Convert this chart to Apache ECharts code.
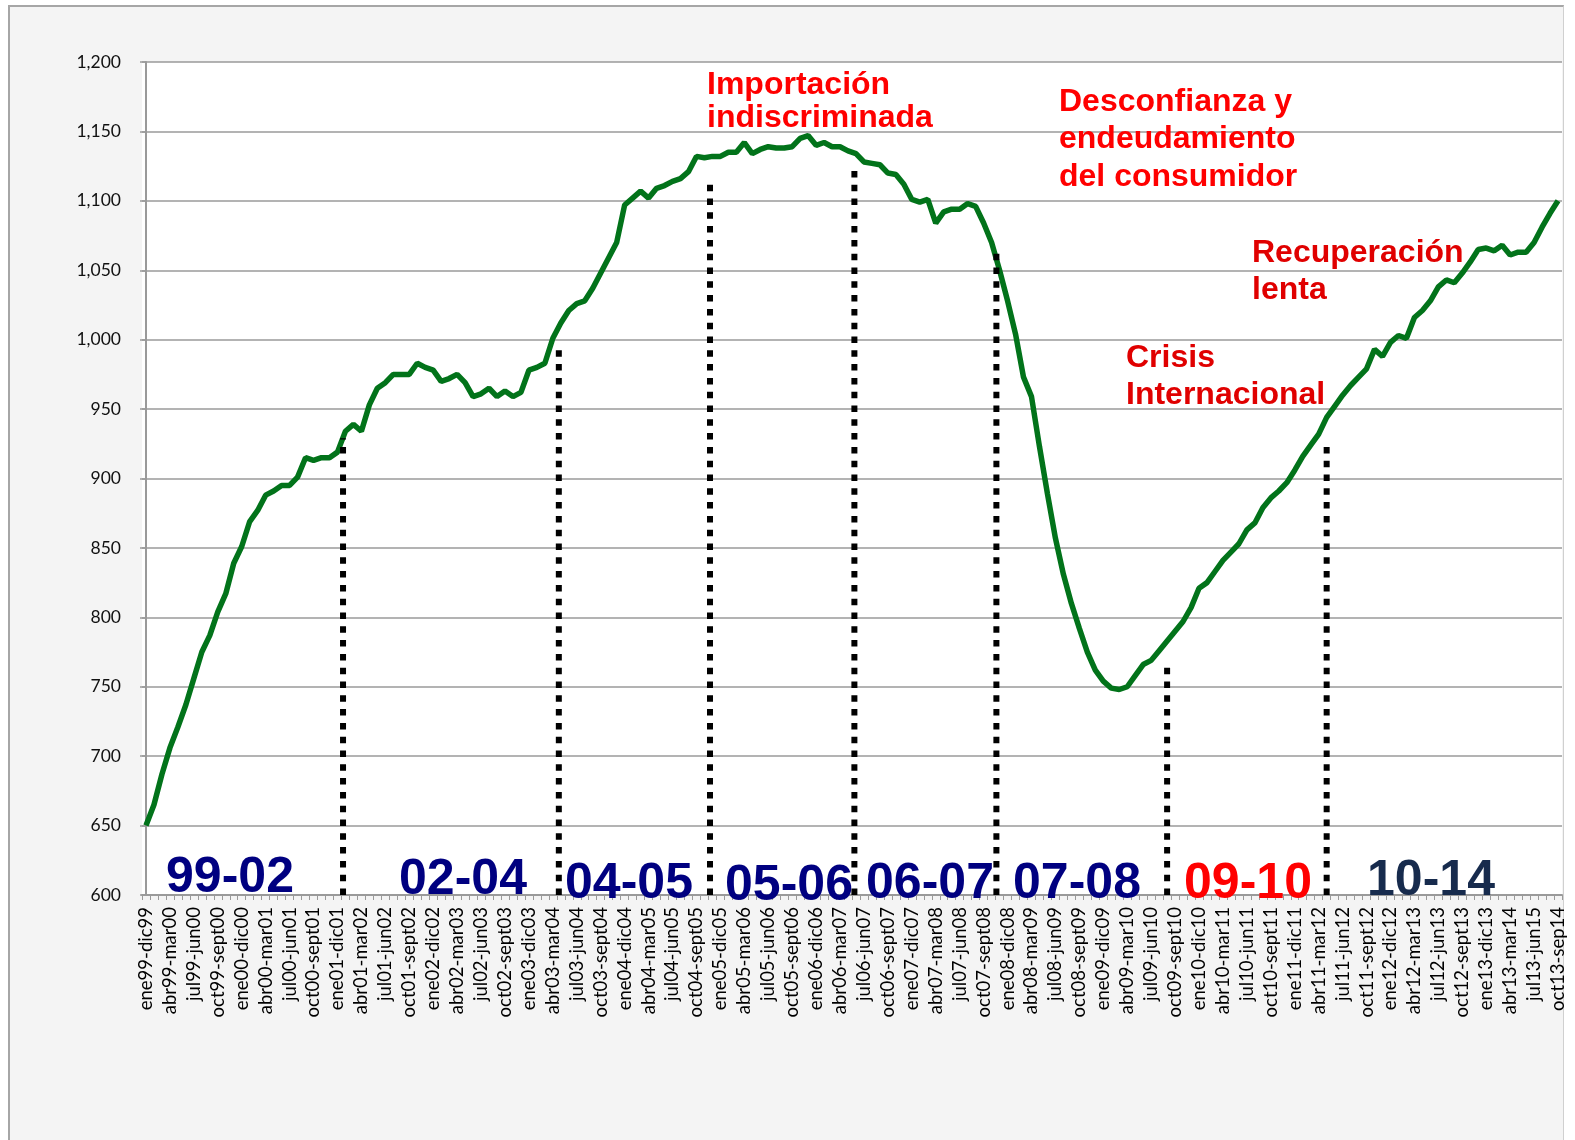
<!DOCTYPE html>
<html>
<head>
<meta charset="utf-8">
<script src="https://cdn.jsdelivr.net/npm/echarts@6/dist/echarts.min.js"></script>
<style>
  html, body { margin: 0; padding: 0; background: #fff; }
  #frame {
    position: absolute; left: 8px; top: 5px; width: 1556px; height: 1140px;
    background: #f4f4f4; border-left: 2px solid #a6a6a6; border-top: 2px solid #a6a6a6;
    border-right: 1px solid #d0d0d0; box-sizing: border-box;
  }
  #chart { position: absolute; left: 0; top: 0; width: 1575px; height: 1140px; }
</style>
</head>
<body>
<div id="frame"></div>
<div id="chart"></div>
<script>
// etiquetas trimestrales del eje (una de cada tres meses)
const tickLabels = [
  'ene99-dic99', 'abr99-mar00', 'jul99-jun00', 'oct99-sept00',
  'ene00-dic00', 'abr00-mar01', 'jul00-jun01', 'oct00-sept01',
  'ene01-dic01', 'abr01-mar02', 'jul01-jun02', 'oct01-sept02',
  'ene02-dic02', 'abr02-mar03', 'jul02-jun03', 'oct02-sept03',
  'ene03-dic03', 'abr03-mar04', 'jul03-jun04', 'oct03-sept04',
  'ene04-dic04', 'abr04-mar05', 'jul04-jun05', 'oct04-sept05',
  'ene05-dic05', 'abr05-mar06', 'jul05-jun06', 'oct05-sept06',
  'ene06-dic06', 'abr06-mar07', 'jul06-jun07', 'oct06-sept07',
  'ene07-dic07', 'abr07-mar08', 'jul07-jun08', 'oct07-sept08',
  'ene08-dic08', 'abr08-mar09', 'jul08-jun09', 'oct08-sept09',
  'ene09-dic09', 'abr09-mar10', 'jul09-jun10', 'oct09-sept10',
  'ene10-dic10', 'abr10-mar11', 'jul10-jun11', 'oct10-sept11',
  'ene11-dic11', 'abr11-mar12', 'jul11-jun12', 'oct11-sept12',
  'ene12-dic12', 'abr12-mar13', 'jul12-jun13', 'oct12-sept13',
  'ene13-dic13', 'abr13-mar14', 'jul13-jun15', 'oct13-sep14'
]

// serie mensual (acumulado 12 meses)
const values = [
  650, 665, 687, 706, 721, 737, 756, 775, 787, 804,
  817, 839, 851, 869, 877, 888, 891, 895, 895, 901,
  915, 913, 915, 915, 919, 934, 939, 934, 953, 965,
  969, 975, 975, 975, 983, 980, 978, 970, 972, 975,
  969, 959, 961, 965, 959, 963, 959, 962, 978, 980,
  983, 1001, 1012, 1021, 1026, 1028, 1037, 1048, 1059, 1070,
  1097, 1102, 1107, 1102, 1109, 1111, 1114, 1116, 1121, 1132,
  1131, 1132, 1132, 1135, 1135, 1142, 1134, 1137, 1139, 1138,
  1138, 1139, 1145, 1147, 1140, 1142, 1139, 1139, 1136, 1134,
  1128, 1127, 1126, 1120, 1119, 1112, 1101, 1099, 1101, 1084,
  1092, 1094, 1094, 1098, 1096, 1084, 1070, 1050, 1028, 1004,
  973, 959, 923, 889, 857, 831, 810, 792, 775, 762,
  754, 749, 748, 750, 758, 766, 769, 776, 783, 790,
  797, 807, 821, 825, 833, 841, 847, 853, 863, 868,
  879, 886, 891, 897, 906, 916, 924, 932, 944, 952,
  960, 967, 973, 979, 993, 988, 998, 1003, 1001, 1016,
  1021, 1028, 1038, 1043, 1041, 1048, 1056, 1065, 1066, 1064,
  1068, 1061, 1063, 1063, 1070, 1081, 1091, 1100
]

// cortes de periodo (posición en meses) y altura del punteado
const breakIdx = [24.7, 51.75, 70.7, 88.8, 106.6, 128.0, 148.0]
const breakTop = [929, 994, 1113, 1125, 1065, 768, 925]

// periodos y anotaciones
const periodLabels = ['99-02', '02-04', '04-05', '05-06', '06-07', '07-08', '09-10', '10-14']
const periodColors = ['#000080', '#000080', '#000080', '#000080', '#000080', '#000080', '#ff0000', '#172b4d']
const periodX = [230, 463, 629, 789, 930, 1077, 1248, 1431]
const periodBase = [896, 898, 902, 904, 902, 902, 902, 899]

const notes = [
  { text: 'Importación\nindiscriminada', x: 707, y: 69, lh: 33, color: '#ff0000' },
  { text: 'Desconfianza y\nendeudamiento\ndel consumidor', x: 1059, y: 83, lh: 37.5, color: '#ff0000' },
  { text: 'Recuperación\nlenta', x: 1252, y: 235, lh: 37, color: '#e00000' },
  { text: 'Crisis\nInternacional', x: 1126, y: 340, lh: 36.5, color: '#e00000' }
]

const categories = values.map((v, i) => (i % 3 === 0 ? tickLabels[i / 3] : 'm' + i))

const chart = echarts.init(document.getElementById('chart'))

const graphics = []
periodLabels.forEach((t, k) => {
  graphics.push({
    type: 'text',
    x: periodX[k],
    y: periodBase[k] - 18,
    z: 100,
    silent: true,
    style: {
      text: t,
      fill: periodColors[k],
      font: 'bold 50px "Liberation Sans", Arial, sans-serif',
      align: 'center',
      verticalAlign: 'middle'
    }
  })
})
notes.forEach((n) => {
  graphics.push({
    type: 'text',
    x: n.x,
    y: n.y,
    z: 100,
    silent: true,
    style: {
      text: n.text,
      fill: n.color,
      font: 'bold 32px "Liberation Sans", Arial, sans-serif',
      lineHeight: n.lh,
      align: 'left',
      verticalAlign: 'top'
    }
  })
})

const breakSeries = breakIdx.map((b, k) => ({
  type: 'line',
  xAxisIndex: 1,
  yAxisIndex: 0,
  data: [[b, 600], [b, breakTop[k]]],
  symbol: 'none',
  silent: true,
  z: 5,
  lineStyle: { color: '#000', width: 6, type: [6.5, 7.3] }
}))

chart.setOption({
  animation: false,
  backgroundColor: 'transparent',
  grid: {
    left: 142,
    right: 13,
    top: 62,
    bottom: 245,
    show: true,
    backgroundColor: '#ffffff',
    borderWidth: 0,
    outerBoundsMode: 'none'
  },
  xAxis: [
    {
      type: 'category',
      data: categories,
      boundaryGap: true,
      axisLine: { show: true, lineStyle: { color: '#9a9a9a', width: 2 } },
      axisTick: { show: true, interval: 0, length: 5, lineStyle: { color: '#9a9a9a', width: 1 } },
      axisLabel: {
        interval: 2,
        rotate: 90,
        margin: 12,
        color: '#000',
        fontFamily: 'Lato, sans-serif',
        fontSize: 18.5
      },
      splitLine: { show: false }
    },
    {
      type: 'value',
      min: -0.5,
      max: 177.5,
      show: false
    }
  ],
  yAxis: {
    type: 'value',
    min: 600,
    max: 1200,
    interval: 50,
    axisLine: { show: true, lineStyle: { color: '#9a9a9a', width: 2 } },
    axisTick: { show: true, length: 6, lineStyle: { color: '#9a9a9a', width: 1.5 } },
    axisLabel: {
      margin: 21,
      color: '#111',
      fontFamily: 'Lato, sans-serif',
      fontSize: 17.5,
      formatter: (v) => v.toLocaleString('en-US')
    },
    splitLine: { show: true, lineStyle: { color: '#9a9a9a', width: 1.5 } }
  },
  series: [
    {
      type: 'line',
      data: values,
      symbol: 'none',
      z: 3,
      lineStyle: { color: '#02731a', width: 5.5 }
    },
    ...breakSeries
  ],
  graphic: graphics
})
</script>
</body>
</html>
